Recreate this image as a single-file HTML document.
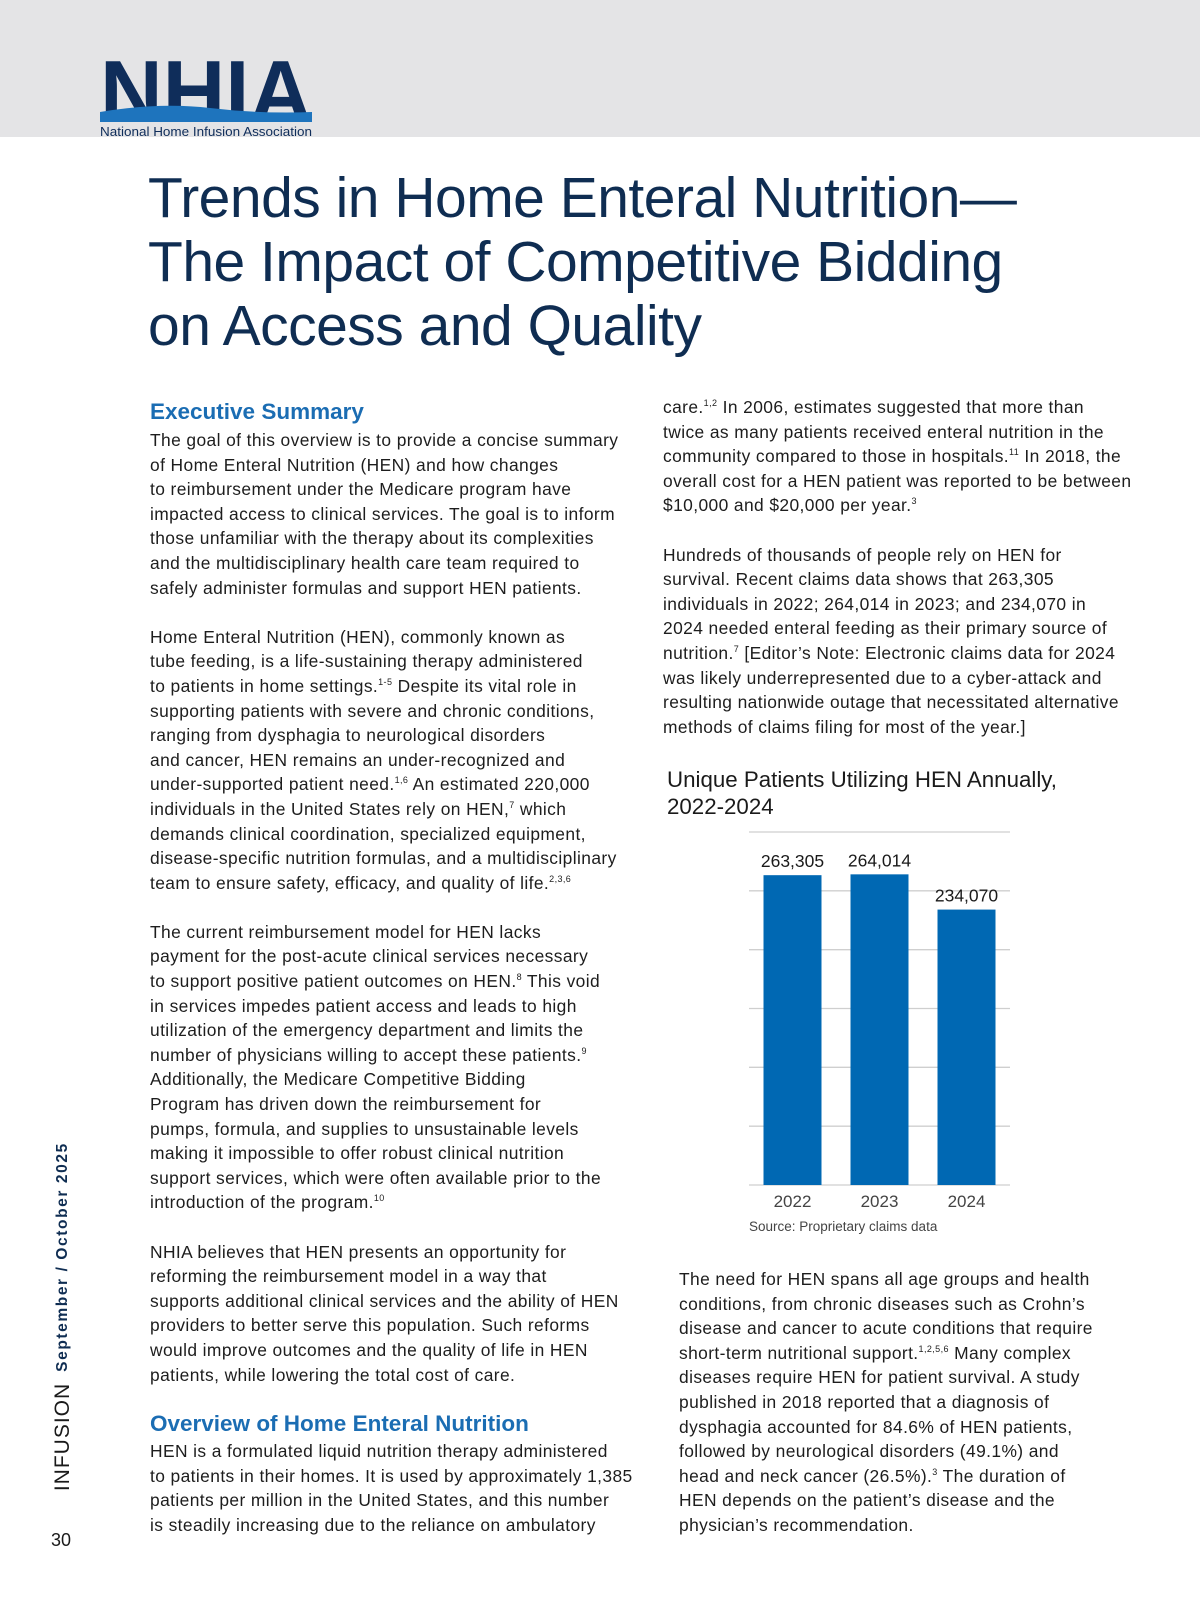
<!DOCTYPE html>
<html><head><meta charset="utf-8"><style>
*{margin:0;padding:0;box-sizing:border-box}
body{width:1200px;height:1606px;position:relative;background:#fff;font-family:"Liberation Sans",sans-serif;color:#1a1a1a;overflow:hidden}
.hdr{position:absolute;left:0;top:0;width:1200px;height:137px;background:#e4e4e6}
.title{position:absolute;left:148px;top:166px;font-size:57px;line-height:64px;color:#0f2d52;letter-spacing:-0.5px}
.col{position:absolute;font-size:17.4px;line-height:24.6px;color:#1d1d1d;letter-spacing:0.4px}
.col div{white-space:nowrap;height:24.6px}
.h{position:absolute;font-size:22.5px;font-weight:bold;color:#1b6db3}
sup{font-size:9px;line-height:0;vertical-align:7px}
</style></head><body>
<div class="hdr"></div>
<div style="position:absolute;left:100px;top:58px;width:212px;height:80px">
<svg width="212" height="80" viewBox="0 0 212 80">
<text x="0" y="64" font-family="Liberation Sans" font-weight="bold" font-size="88" fill="#0f2d5a" textLength="212" lengthAdjust="spacingAndGlyphs">NHIA</text>
<path d="M0 54 Q60 44 110 50 T212 54 L212 64 L0 64 Z" fill="#1e74bd"/>
<text x="0" y="78" font-family="Liberation Sans" font-size="12.5" fill="#0f2d5a" textLength="212" lengthAdjust="spacingAndGlyphs">National Home Infusion Association</text>
</svg></div>
<div class="title">Trends in Home Enteral Nutrition—<br>The Impact of Competitive Bidding<br>on Access and Quality</div>

<div class="h" style="left:150px;top:399px">Executive Summary</div>
<div class="col" style="left:150px;top:428px">
<div>The goal of this overview is to provide a concise summary</div>
<div>of Home Enteral Nutrition (HEN) and how changes</div>
<div>to reimbursement under the Medicare program have</div>
<div>impacted access to clinical services. The goal is to inform</div>
<div>those unfamiliar with the therapy about its complexities</div>
<div>and the multidisciplinary health care team required to</div>
<div>safely administer formulas and support HEN patients.</div>
<div></div>
<div>Home Enteral Nutrition (HEN), commonly known as</div>
<div>tube feeding, is a life-sustaining therapy administered</div>
<div>to patients in home settings.<sup>1-5</sup> Despite its vital role in</div>
<div>supporting patients with severe and chronic conditions,</div>
<div>ranging from dysphagia to neurological disorders</div>
<div>and cancer, HEN remains an under-recognized and</div>
<div>under-supported patient need.<sup>1,6</sup> An estimated 220,000</div>
<div>individuals in the United States rely on HEN,<sup>7</sup> which</div>
<div>demands clinical coordination, specialized equipment,</div>
<div>disease-specific nutrition formulas, and a multidisciplinary</div>
<div>team to ensure safety, efficacy, and quality of life.<sup>2,3,6</sup></div>
<div></div>
<div>The current reimbursement model for HEN lacks</div>
<div>payment for the post-acute clinical services necessary</div>
<div>to support positive patient outcomes on HEN.<sup>8</sup> This void</div>
<div>in services impedes patient access and leads to high</div>
<div>utilization of the emergency department and limits the</div>
<div>number of physicians willing to accept these patients.<sup>9</sup></div>
<div>Additionally, the Medicare Competitive Bidding</div>
<div>Program has driven down the reimbursement for</div>
<div>pumps, formula, and supplies to unsustainable levels</div>
<div>making it impossible to offer robust clinical nutrition</div>
<div>support services, which were often available prior to the</div>
<div>introduction of the program.<sup>10</sup></div>
<div></div>
<div>NHIA believes that HEN presents an opportunity for</div>
<div>reforming the reimbursement model in a way that</div>
<div>supports additional clinical services and the ability of HEN</div>
<div>providers to better serve this population. Such reforms</div>
<div>would improve outcomes and the quality of life in HEN</div>
<div>patients, while lowering the total cost of care.</div>
</div>
<div class="h" style="left:150px;top:1411px">Overview of Home Enteral Nutrition</div>
<div class="col" style="left:150px;top:1439px">
<div>HEN is a formulated liquid nutrition therapy administered</div>
<div>to patients in their homes. It is used by approximately 1,385</div>
<div>patients per million in the United States, and this number</div>
<div>is steadily increasing due to the reliance on ambulatory</div>
</div>

<div class="col" style="left:663px;top:395px">
<div>care.<sup>1,2</sup> In 2006, estimates suggested that more than</div>
<div>twice as many patients received enteral nutrition in the</div>
<div>community compared to those in hospitals.<sup>11</sup> In 2018, the</div>
<div>overall cost for a HEN patient was reported to be between</div>
<div>$10,000 and $20,000 per year.<sup>3</sup></div>
<div></div>
<div>Hundreds of thousands of people rely on HEN for</div>
<div>survival. Recent claims data shows that 263,305</div>
<div>individuals in 2022; 264,014 in 2023; and 234,070 in</div>
<div>2024 needed enteral feeding as their primary source of</div>
<div>nutrition.<sup>7</sup> [Editor’s Note: Electronic claims data for 2024</div>
<div>was likely underrepresented due to a cyber-attack and</div>
<div>resulting nationwide outage that necessitated alternative</div>
<div>methods of claims filing for most of the year.]</div>
</div>

<svg id="chart" style="position:absolute;left:0;top:0" width="1200" height="1606"></svg>

<div class="col" style="left:679px;top:1267px">
<div>The need for HEN spans all age groups and health</div>
<div>conditions, from chronic diseases such as Crohn’s</div>
<div>disease and cancer to acute conditions that require</div>
<div>short-term nutritional support.<sup>1,2,5,6</sup> Many complex</div>
<div>diseases require HEN for patient survival. A study</div>
<div>published in 2018 reported that a diagnosis of</div>
<div>dysphagia accounted for 84.6% of HEN patients,</div>
<div>followed by neurological disorders (49.1%) and</div>
<div>head and neck cancer (26.5%).<sup>3</sup> The duration of</div>
<div>HEN depends on the patient’s disease and the</div>
<div>physician’s recommendation.</div>
</div>

<div style="position:absolute;left:63px;top:1257px;transform:translate(-50%,-50%) rotate(-90deg);white-space:nowrap;font-size:15.5px;font-weight:bold;letter-spacing:1.6px;color:#0f2d52">September / October 2025</div>
<div style="position:absolute;left:63px;top:1437px;transform:translate(-50%,-50%) rotate(-90deg);white-space:nowrap;font-size:21px;letter-spacing:1px;color:#1a1a1a">INFUSION</div>
<div style="position:absolute;left:51px;top:1530px;font-size:18px">30</div>

<script>
const years=["2022","2023","2024"];
const patients=[263305,264014,234070];
const valueLabels=["263,305","264,014","234,070"];
const ticks=[0,50000,100000,150000,200000,250000,300000];
const NS="http://www.w3.org/2000/svg";
const svg=document.getElementById('chart');
const x0=749,x1=1010,y0=1185,ymax=300000,plotH=353;
const y=v=>y0-v/ymax*plotH;
const band=(x1-x0)/years.length;
const bw=58;
function mk(t,a,txt){const e=document.createElementNS(NS,t);for(const k in a)e.setAttribute(k,a[k]);if(txt!==undefined)e.textContent=txt;svg.appendChild(e);return e;}
const t1=mk('text',{x:667,y:787,'font-size':22.3,fill:'#1a1a1a','font-family':'Liberation Sans'},'Unique Patients Utilizing HEN Annually,');


const t2=mk('text',{x:667,y:814,'font-size':22.3,fill:'#1a1a1a','font-family':'Liberation Sans'},'2022-2024');


ticks.forEach(v=>{
 const l=mk('line',{x1:x0,x2:x1,y1:y(v),y2:y(v),stroke:'#cfcfcf','stroke-width':1.3});
 
 
});
years.forEach((yr,i)=>{
 const cx=x0+band*(i+0.5);
 const r=mk('rect',{x:cx-bw/2,y:y(patients[i]),width:bw,height:y0-y(patients[i]),fill:'#0068b3'});
 
 
 const vl=mk('text',{x:cx,y:y(patients[i])-8,'text-anchor':'middle','font-size':17.5,fill:'#1a1a1a','font-family':'Liberation Sans'},valueLabels[i]);
 
 
 const xl=mk('text',{x:cx,y:y0+22,'text-anchor':'middle','font-size':17,fill:'#444','font-family':'Liberation Sans'},yr);
 
 
});
const src=mk('text',{x:749,y:1231,'font-size':13.5,fill:'#444','font-family':'Liberation Sans'},'Source: Proprietary claims data');


</script>
</body></html>
